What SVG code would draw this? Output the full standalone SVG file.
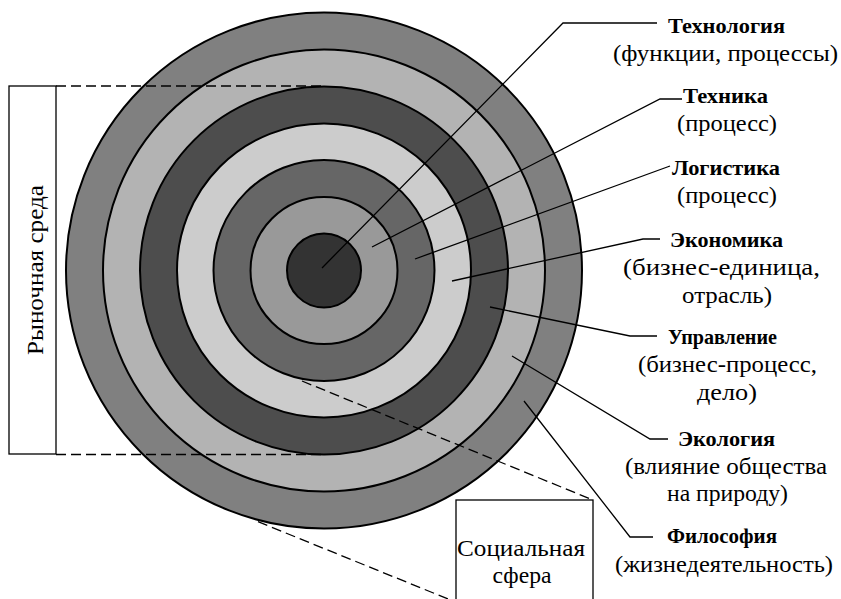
<svg xmlns="http://www.w3.org/2000/svg" width="841" height="599" viewBox="0 0 841 599">
<style>
.ring{stroke:#000;stroke-width:2}
.lead{fill:none;stroke:#000;stroke-width:1.3}
.dash{fill:none;stroke:#000;stroke-width:1.3;stroke-dasharray:10,5}
.box{fill:#fff;stroke:#000;stroke-width:1.3}
.b{font-weight:bold;font-size:21px;text-anchor:middle;fill:#000}
.r{font-size:23px;text-anchor:middle;fill:#000}
</style>
<rect width="841" height="599" fill="#fff"/>
<g id="rings">
<circle class="ring" cx="324" cy="270.5" r="258" fill="#808080"/>
<circle class="ring" cx="324" cy="270.5" r="221" fill="#b3b3b3"/>
<circle class="ring" cx="324" cy="270.5" r="184" fill="#4d4d4d"/>
<circle class="ring" cx="324" cy="270.5" r="147" fill="#cccccc"/>
<circle class="ring" cx="324" cy="270.5" r="110.5" fill="#666666"/>
<circle class="ring" cx="324" cy="270.5" r="73.5" fill="#999999"/>
<circle class="ring" cx="324" cy="270.5" r="37" fill="#333333"/>
</g>
<g id="labels" font-family="'Times New Roman', 'Liberation Serif', 'DejaVu Serif', serif">
<g id="market">
<rect class="box" x="9" y="86" width="47" height="368"/>
<text class="r" transform="translate(43,270) rotate(-90)" textLength="170" lengthAdjust="spacingAndGlyphs">Рыночная среда</text>
</g>
<g id="social">
<rect class="box" x="456" y="500" width="137" height="120"/>
<text class="r" x="521" y="556" textLength="128" lengthAdjust="spacingAndGlyphs">Социальная</text>
<text class="r" x="522" y="583" textLength="59" lengthAdjust="spacingAndGlyphs">сфера</text>
</g>
<g id="technology">
<text class="b" x="726.5" y="33" textLength="117" lengthAdjust="spacingAndGlyphs">Технология</text>
<text class="r" x="725.5" y="61" textLength="225" lengthAdjust="spacingAndGlyphs">(функции, процессы)</text>
</g>
<g id="technics">
<text class="b" x="725.5" y="103" textLength="85" lengthAdjust="spacingAndGlyphs">Техника</text>
<text class="r" x="727" y="131" textLength="100" lengthAdjust="spacingAndGlyphs">(процесс)</text>
</g>
<g id="logistics">
<text class="b" x="726" y="175" textLength="108" lengthAdjust="spacingAndGlyphs">Логистика</text>
<text class="r" x="727" y="203" textLength="100" lengthAdjust="spacingAndGlyphs">(процесс)</text>
</g>
<g id="economics">
<text class="b" x="726.5" y="246.5" textLength="113" lengthAdjust="spacingAndGlyphs">Экономика</text>
<text class="r" x="721.5" y="274.5" textLength="197" lengthAdjust="spacingAndGlyphs">(бизнес-единица,</text>
<text class="r" x="727" y="302.5" textLength="90" lengthAdjust="spacingAndGlyphs">отрасль)</text>
</g>
<g id="management">
<text class="b" x="722.5" y="344" textLength="109" lengthAdjust="spacingAndGlyphs">Управление</text>
<text class="r" x="727.5" y="372" textLength="179" lengthAdjust="spacingAndGlyphs">(бизнес-процесс,</text>
<text class="r" x="727" y="400" textLength="60" lengthAdjust="spacingAndGlyphs">дело)</text>
</g>
<g id="ecology">
<text class="b" x="726.5" y="446" textLength="97" lengthAdjust="spacingAndGlyphs">Экология</text>
<text class="r" x="726" y="474" textLength="202" lengthAdjust="spacingAndGlyphs">(влияние общества</text>
<text class="r" x="727.5" y="501" textLength="121" lengthAdjust="spacingAndGlyphs">на природу)</text>
</g>
<g id="philosophy">
<text class="b" x="722" y="543" textLength="110" lengthAdjust="spacingAndGlyphs">Философия</text>
<text class="r" x="724" y="572" textLength="218" lengthAdjust="spacingAndGlyphs">(жизнедеятельность)</text>
</g>
</g>
<g id="connectors">
<path class="dash" d="M56,86 H324"/>
<path class="dash" d="M56,454.5 H324"/>
<path class="dash" d="M302,381 L593,500"/>
<path class="dash" d="M258,521.7 L458,603"/>
<polyline class="lead" points="322,268 563,23 657,23"/>
<polyline class="lead" points="372,247 660,99 682,99"/>
<polyline class="lead" points="415,259 670,166"/>
<polyline class="lead" points="452,281 643,239 660,239"/>
<polyline class="lead" points="490,307 630,336 657,336"/>
<polyline class="lead" points="512,356 650,439 668,439"/>
<polyline class="lead" points="524,401 630,537 653,537"/>
</g>
</svg>
